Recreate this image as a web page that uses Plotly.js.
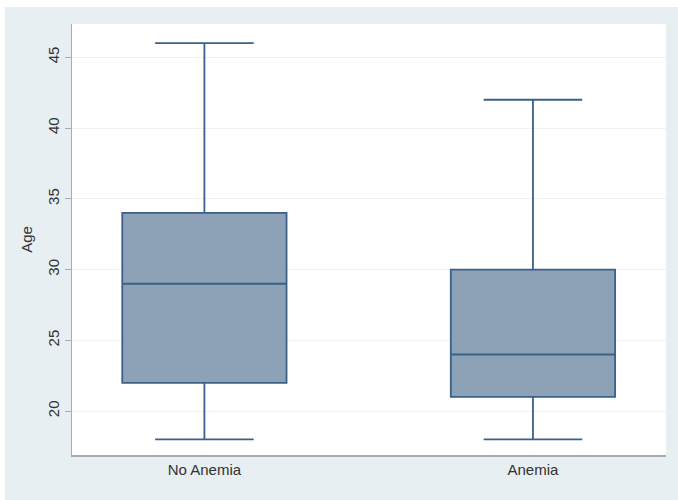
<!DOCTYPE html>
<html>
<head>
<meta charset="utf-8">
<script src="https://cdn.plot.ly/plotly-3.0.1.min.js"></script>
<style>html,body{margin:0;padding:0;background:#e8eff2;overflow:hidden;}#chart{width:678px;height:500px;}</style>
</head>
<body>
<div id="chart"></div>
<script>
const groups = ["No Anemia", "Anemia"];
const lowerWhisker = [18, 18];
const q1Values = [22, 21];
const medianValues = [29, 24];
const q3Values = [34, 30];
const upperWhisker = [46, 42];
const yTicks = [20, 25, 30, 35, 40, 45];

const traces = groups.map((g, i) => ({
  type: 'box',
  name: g,
  x: [g],
  q1: [q1Values[i]],
  median: [medianValues[i]],
  q3: [q3Values[i]],
  lowerfence: [lowerWhisker[i]],
  upperfence: [upperWhisker[i]],
  width: 0.5,
  whiskerwidth: 0.6,
  fillcolor: '#8da2b7',
  line: {color: '#3a6187', width: 1.8},
  boxpoints: false,
  hoverinfo: 'skip',
  showlegend: false
}));

const layout = {
  width: 678, height: 500,
  margin: {l: 72, r: 12, t: 24, b: 45},
  paper_bgcolor: '#e8eff2',
  plot_bgcolor: '#ffffff',
  font: {family: 'Liberation Sans, Arial, sans-serif', size: 15, color: '#333333'},
  showlegend: false,
  xaxis: {
    type: 'category',
    range: [-0.403, 1.405],
    showgrid: false,
    zeroline: false,
    showline: true,
    linecolor: '#a8acae',
    linewidth: 1.5,
    ticks: '',
    tickfont: {size: 15, color: '#333333'},
    fixedrange: true
  },
  yaxis: {
    range: [16.9, 47.35],
    tickvals: yTicks,
    ticktext: yTicks.map(String),
    tickangle: -90,
    ticks: 'outside',
    ticklen: 6,
    tickcolor: '#a8acae',
    showline: true,
    linecolor: '#a8acae',
    linewidth: 1.5,
    showgrid: true,
    gridcolor: '#eef2f4',
    gridwidth: 1,
    zeroline: false,
    tickfont: {size: 15, color: '#333333'},
    title: {text: 'Age', font: {size: 15, color: '#333333'}, standoff: 8},
    fixedrange: true
  },
  shapes: [
    {type: 'rect', xref: 'paper', yref: 'paper', x0: -0.13, x1: 1.03, y0: 1.0394, y1: 1.06, fillcolor: '#ffffff', line: {width: 0}, layer: 'below'},
    {type: 'rect', xref: 'paper', yref: 'paper', x0: -0.13, x1: -0.1128, y0: -0.11, y1: 1.06, fillcolor: '#ffffff', line: {width: 0}, layer: 'below'}
  ]
};

Plotly.newPlot('chart', traces, layout, {displayModeBar: false, staticPlot: true});
</script>
</body>
</html>
